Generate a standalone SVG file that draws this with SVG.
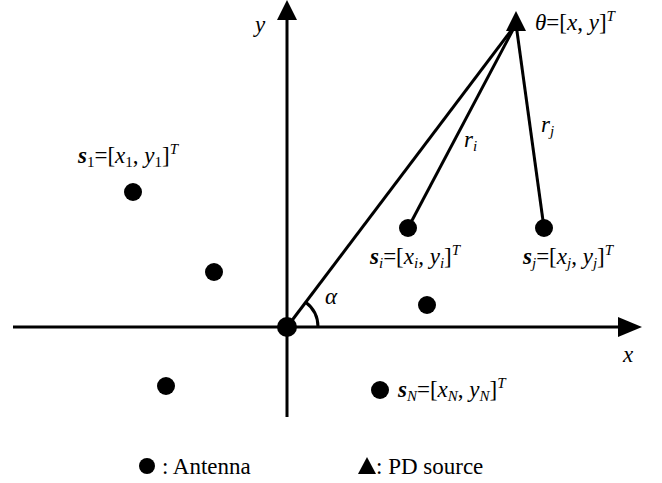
<svg xmlns="http://www.w3.org/2000/svg" width="662" height="483" viewBox="0 0 662 483" font-family="Liberation Serif, Times New Roman, serif">
<style>
.ln{stroke:#000;stroke-width:3;fill:none}
.dot{fill:#000}
text{font-size:23px;fill:#000}
.i{font-style:italic}
.b{font-weight:bold;font-style:italic}
.sub{font-size:15px}
.sup{font-size:15px}
</style>
<rect width="662" height="483" fill="#fff"/>
<g id="axes">
<line class="ln" x1="13" y1="327" x2="625" y2="327"/>
<polygon points="642,327 618,317 618,337" fill="#000"/>
<line class="ln" x1="287" y1="417" x2="287" y2="16"/>
<polygon points="287,0 277,20 297,20" fill="#000"/>
<text class="i" x="255" y="32">y</text>
<text class="i" x="623" y="362">x</text>
</g>
<g id="connectors">
<line class="ln" x1="516" y1="24" x2="287" y2="327"/>
<line class="ln" x1="516" y1="24" x2="408" y2="228"/>
<line class="ln" x1="516" y1="24" x2="544" y2="228"/>
<path class="ln" d="M318,327 A31,31 0 0 0 305.7,302.3"/>
<text class="i" x="325" y="304">α</text>
<text class="i" x="464" y="147">r<tspan class="sub" dy="4">i</tspan></text>
<text class="i" x="541" y="132">r<tspan class="sub" dy="4">j</tspan></text>
</g>
<g id="source">
<polygon points="516,11 506,31 526,31" fill="#000"/>
<text x="535" y="30"><tspan class="i">θ</tspan>=[<tspan class="i">x</tspan>, <tspan class="i">y</tspan>]<tspan class="sup i" dy="-9">T</tspan></text>
</g>
<g id="origin"><circle class="dot" cx="287" cy="327" r="10"/></g>
<g id="s1">
<circle class="dot" cx="133" cy="192" r="9"/>
<text x="78" y="163"><tspan class="b">s</tspan><tspan class="sub" dy="4">1</tspan><tspan dy="-4">=[</tspan><tspan class="i">x</tspan><tspan class="sub" dy="4">1</tspan><tspan dy="-4">, </tspan><tspan class="i">y</tspan><tspan class="sub" dy="4">1</tspan><tspan dy="-4">]</tspan><tspan class="sup i" dy="-9">T</tspan></text>
</g>
<g id="a2"><circle class="dot" cx="214" cy="272" r="9"/></g>
<g id="a3"><circle class="dot" cx="166" cy="386" r="9"/></g>
<g id="a4"><circle class="dot" cx="427" cy="305" r="9"/></g>
<g id="si">
<circle class="dot" cx="408" cy="228" r="9"/>
<text x="370" y="264"><tspan class="b">s</tspan><tspan class="sub i" dy="4">i</tspan><tspan dy="-4">=[</tspan><tspan class="i">x</tspan><tspan class="sub i" dy="4">i</tspan><tspan dy="-4">, </tspan><tspan class="i">y</tspan><tspan class="sub i" dy="4">i</tspan><tspan dy="-4">]</tspan><tspan class="sup i" dy="-9">T</tspan></text>
</g>
<g id="sj">
<circle class="dot" cx="544" cy="228" r="9"/>
<text x="523" y="264"><tspan class="b">s</tspan><tspan class="sub i" dy="4">j</tspan><tspan dy="-4">=[</tspan><tspan class="i">x</tspan><tspan class="sub i" dy="4">j</tspan><tspan dy="-4">, </tspan><tspan class="i">y</tspan><tspan class="sub i" dy="4">j</tspan><tspan dy="-4">]</tspan><tspan class="sup i" dy="-9">T</tspan></text>
</g>
<g id="sN">
<circle class="dot" cx="380" cy="390" r="9"/>
<text x="398" y="397"><tspan class="b">s</tspan><tspan class="sub i" dy="4">N</tspan><tspan dy="-4">=[</tspan><tspan class="i">x</tspan><tspan class="sub i" dy="4">N</tspan><tspan dy="-4">, </tspan><tspan class="i">y</tspan><tspan class="sub i" dy="4">N</tspan><tspan dy="-4">]</tspan><tspan class="sup i" dy="-9">T</tspan></text>
</g>
<g id="legend">
<circle class="dot" cx="147" cy="466" r="8"/>
<text x="162" y="474">: Antenna</text>
<polygon points="367,457 358,474 376,474" fill="#000"/>
<text x="376" y="474">: PD source</text>
</g>
</svg>
